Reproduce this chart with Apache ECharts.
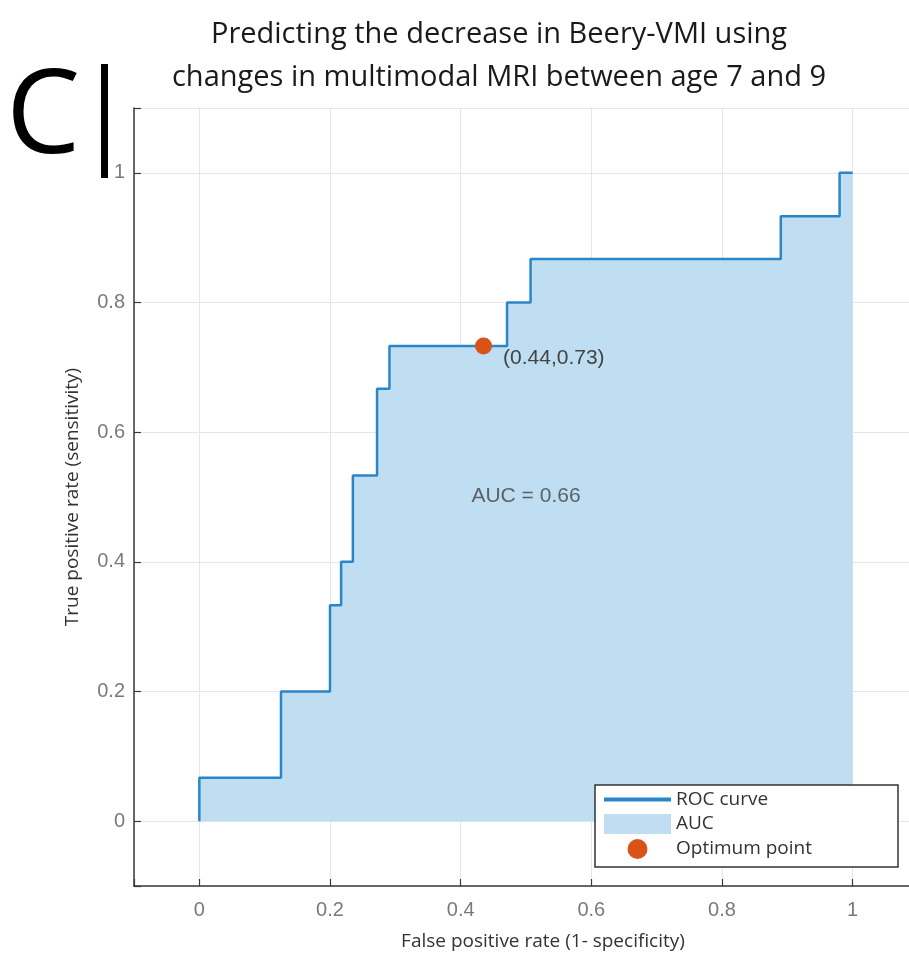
<!DOCTYPE html>
<html>
<head>
<meta charset="utf-8">
<script src="https://cdn.jsdelivr.net/npm/echarts@6/dist/echarts.min.js"></script>
<style>
  html, body { margin: 0; padding: 0; background: #fff; }
  #chart { width: 909px; height: 958px; }
</style>
</head>
<body>
<div id="chart"></div>
<script>
// ROC staircase vertices (false positive rate, true positive rate)
var fpr = [0, 0, 0.125, 0.125, 0.2, 0.2, 0.217, 0.217, 0.235, 0.235, 0.272, 0.272,
           0.291, 0.291, 0.471, 0.471, 0.507, 0.507, 0.89, 0.89, 0.98, 0.98, 1.0];
var tpr = [0, 0.067, 0.067, 0.2, 0.2, 0.333, 0.333, 0.4, 0.4, 0.533, 0.533, 0.667,
           0.667, 0.733, 0.733, 0.8, 0.8, 0.867, 0.867, 0.933, 0.933, 1.0, 1.0];
var optimum = [0.435, 0.733];
var optimumLabel = '(0.44,0.73)';
var aucPos = [0.5, 0.502];
var aucLabel = 'AUC = 0.66';
var titleLines = ['Predicting the decrease in Beery-VMI using',
                  'changes in multimodal MRI between age 7 and 9'];

var rocData = [];
for (var i = 0; i < fpr.length; i++) {
    rocData.push([fpr[i], tpr[i]]);
}

var myChart = echarts.init(document.getElementById('chart'));

function tickFmt(v) {
    if (v < -0.05 || v > 1.05) return '';
    return String(Math.round(v * 10) / 10);
}

var axisCommon = {
    type: 'value',
    min: -0.1,
    max: 1.1,
    nameLocation: 'middle',
    nameTextStyle: { fontFamily: 'Open Sans', fontSize: 19, color: '#333' },
    axisLine: { show: true, onZero: false, lineStyle: { color: '#3a3a3a', width: 1.5 } },
    axisTick: { show: true, inside: true, length: 7, lineStyle: { color: '#3a3a3a', width: 1.2 } },
    splitLine: { show: true, lineStyle: { color: '#e6e6e6', width: 1 } },
    axisLabel: {
        formatter: tickFmt,
        fontFamily: 'Liberation Sans',
        fontSize: 20,
        color: '#7a7a7a'
    }
};

var option = {
    animation: false,
    backgroundColor: '#fff',
    title: {
        text: titleLines.join('\n'),
        left: 494,
        textAlign: 'center',
        top: 8,
        textStyle: {
            fontFamily: 'Open Sans',
            fontWeight: 'normal',
            fontSize: 29,
            lineHeight: 43,
            color: '#1a1a1a'
        }
    },
    graphic: [
        {
            type: 'text',
            left: 6,
            top: 60,
            style: { text: 'C', fontFamily: 'Open Sans', fontSize: 118, fill: '#000' }
        },
        {
            type: 'rect',
            shape: { x: 101, y: 64, width: 7, height: 114 },
            style: { fill: '#000' }
        }
    ],
    grid: {
        left: 134,
        top: 108,
        width: 784,
        height: 778,
        outerBoundsMode: 'none',
        containLabel: false
    },
    legend: {
        orient: 'vertical',
        left: 595,
        top: 785,
        itemWidth: 67,
        itemHeight: 20,
        itemGap: 5,
        padding: [5, 86, 8, 7],
        backgroundColor: '#fff',
        borderColor: '#333',
        borderWidth: 1.5,
        borderRadius: 0,
        textStyle: { fontFamily: 'Open Sans', fontSize: 19, color: '#333' },
        data: [
            { name: 'ROC curve', lineStyle: { width: 4 }, itemStyle: { opacity: 0 } },
            { name: 'AUC', icon: 'rect' },
            { name: 'Optimum point', icon: 'circle', itemStyle: { opacity: 1 } }
        ]
    },
    xAxis: Object.assign({}, axisCommon, {
        name: 'False positive rate (1- specificity)',
        nameGap: 46,
        nameTextStyle: Object.assign({}, axisCommon.nameTextStyle, { padding: [0, 0, 0, 34] }),
        axisLabel: Object.assign({}, axisCommon.axisLabel, { margin: 14 })
    }),
    yAxis: Object.assign({}, axisCommon, {
        name: 'True positive rate (sensitivity)',
        nameGap: 52,
        axisLabel: Object.assign({}, axisCommon.axisLabel, { margin: 9 })
    }),
    series: [
        {
            name: 'AUC',
            type: 'line',
            data: rocData,
            symbol: 'none',
            color: '#bfdef2',
            lineStyle: { width: 0, opacity: 0 },
            areaStyle: { color: '#bfdef2', opacity: 1 },
            z: 2
        },
        {
            name: 'ROC curve',
            type: 'line',
            data: rocData,
            symbol: 'none',
            showSymbol: false,
            color: '#2a86c9',
            lineStyle: { color: '#2a86c9', width: 2.5 },
            z: 3
        },
        {
            name: 'Optimum point',
            type: 'scatter',
            data: [optimum],
            symbolSize: 17,
            color: '#d95319',
            itemStyle: { color: '#d95319', opacity: 1 },
            label: {
                show: true,
                position: 'right',
                offset: [6, 12],
                formatter: optimumLabel,
                fontFamily: 'Liberation Sans',
                fontSize: 21,
                color: '#444'
            },
            z: 4
        },
        {
            name: 'annotation',
            type: 'scatter',
            data: [aucPos],
            symbolSize: 0,
            silent: true,
            label: {
                show: true,
                position: 'inside',
                formatter: aucLabel,
                fontFamily: 'Liberation Sans',
                fontSize: 21,
                color: '#444'
            },
            z: 4
        }
    ]
};

myChart.setOption(option);
</script>
</body>
</html>
